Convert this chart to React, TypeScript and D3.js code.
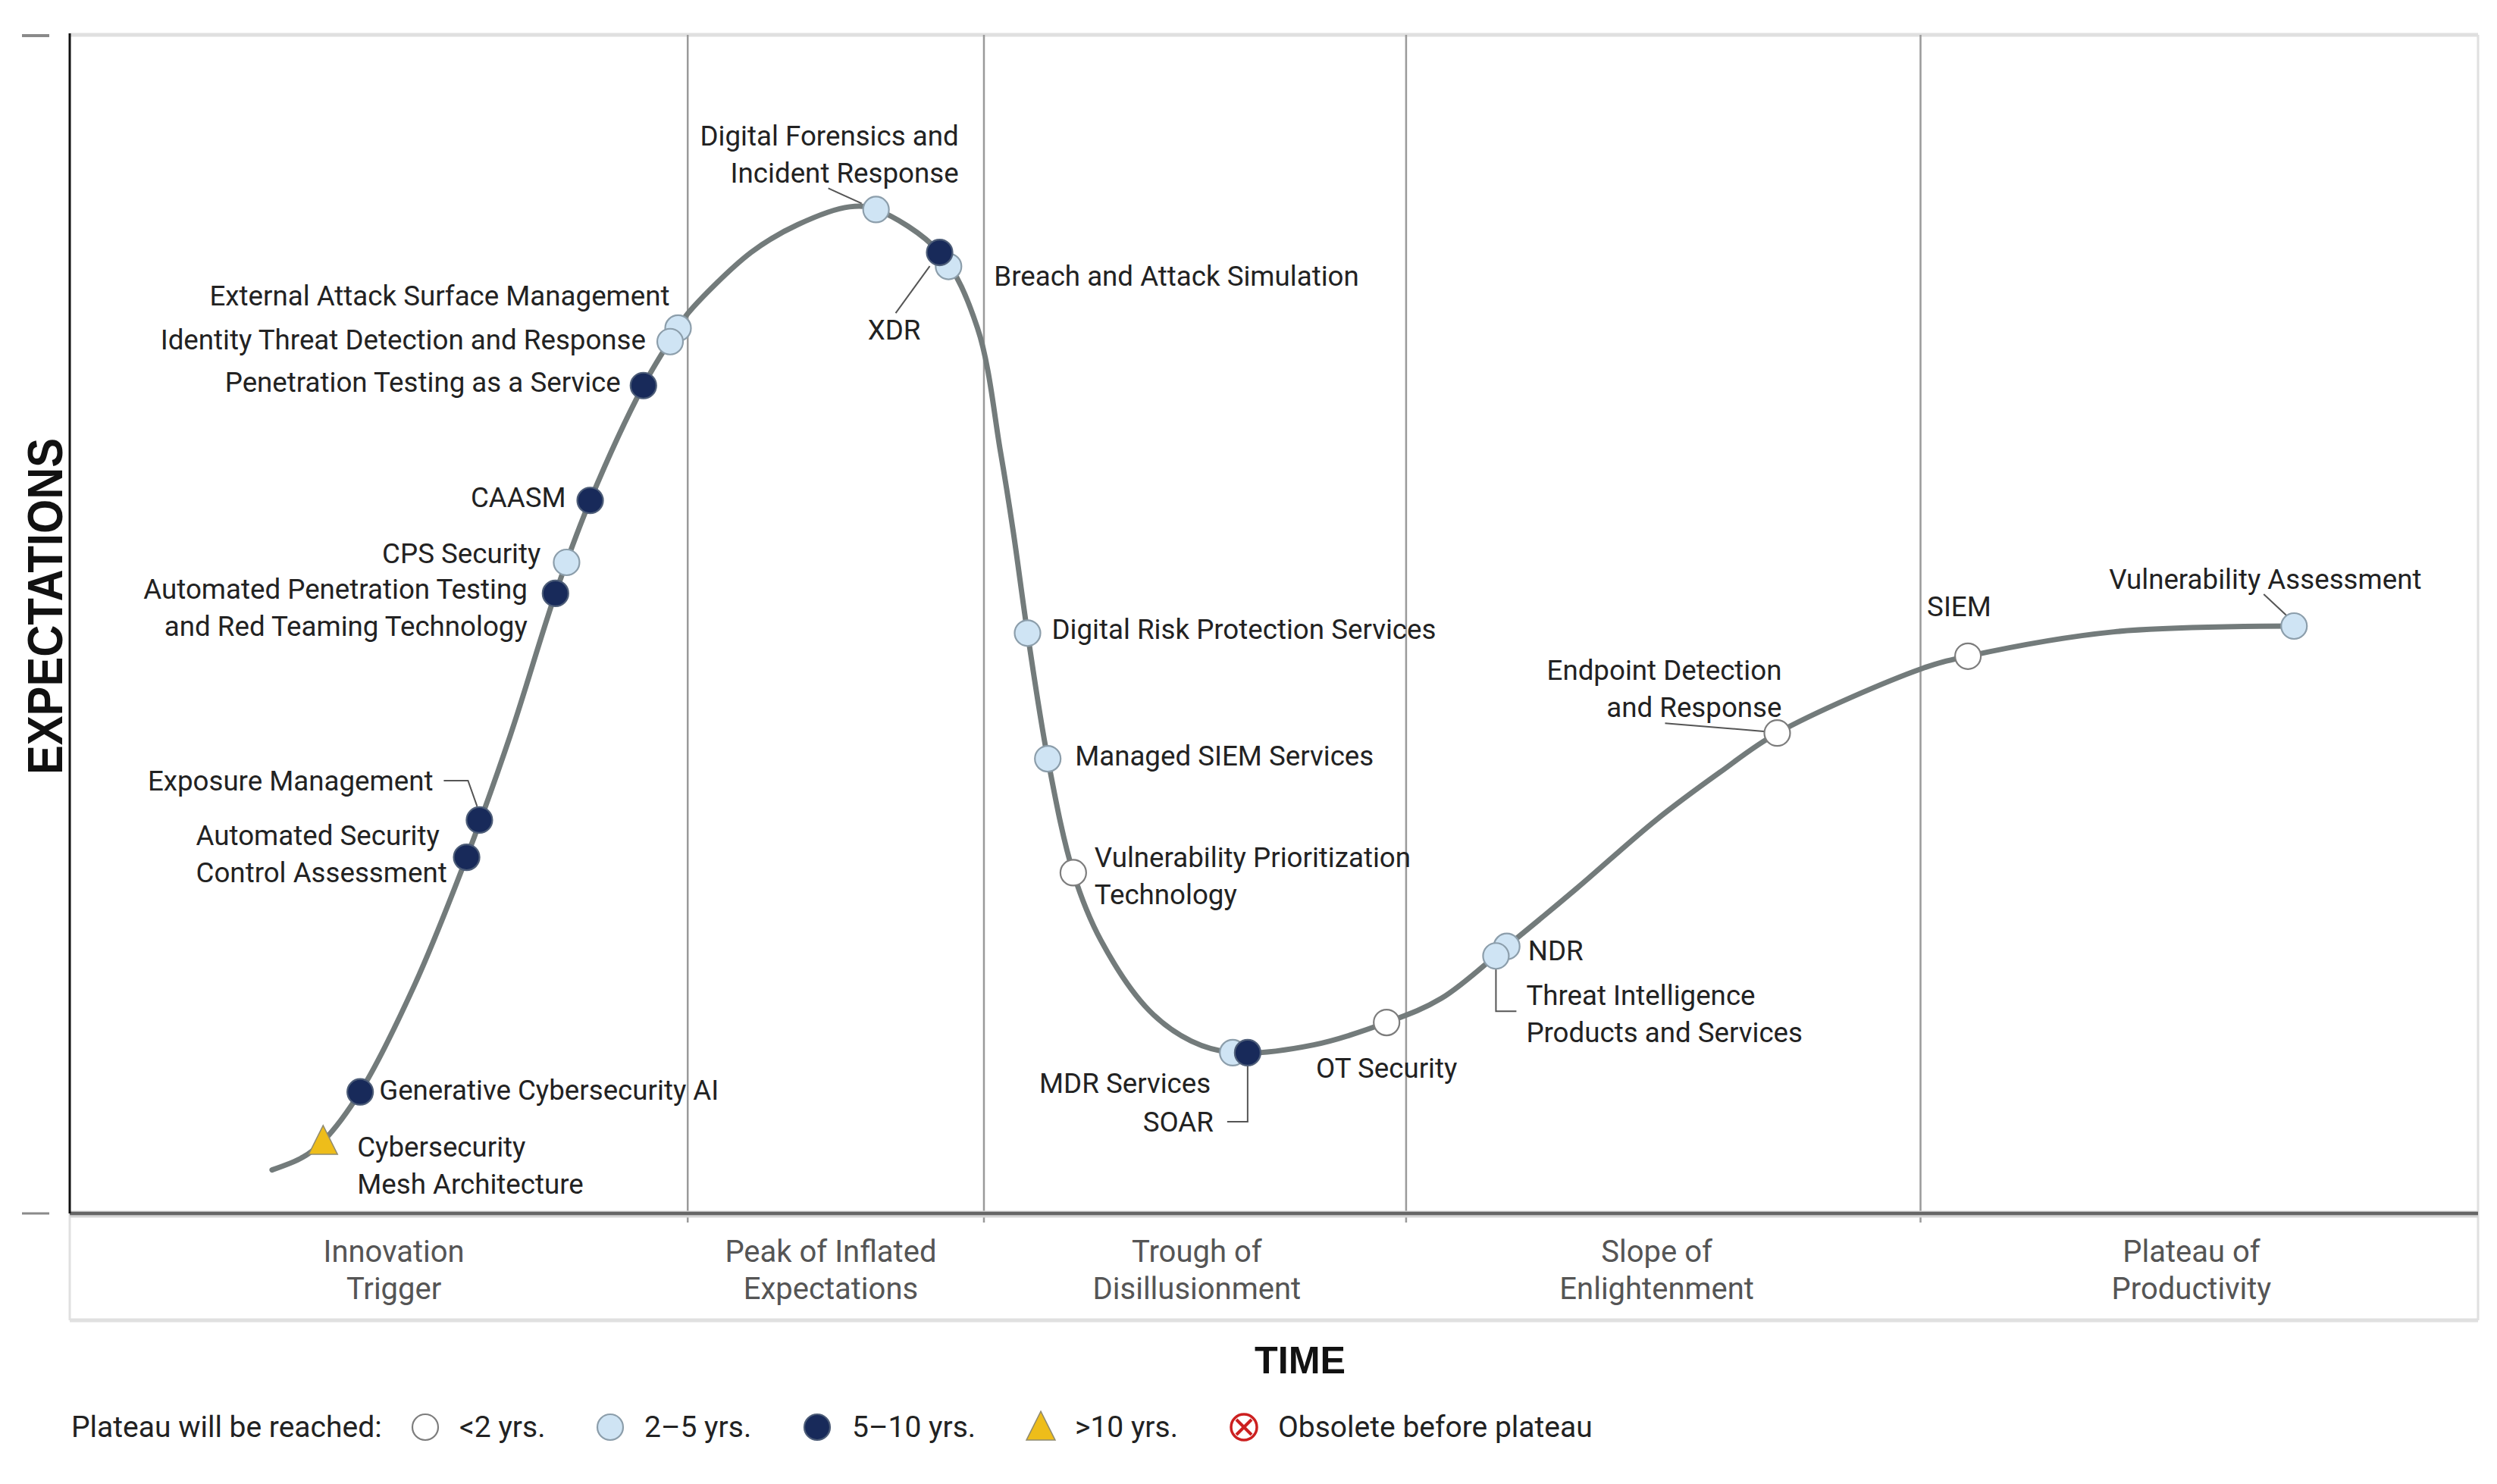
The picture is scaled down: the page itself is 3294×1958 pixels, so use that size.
import React from 'react';
import * as d3 from 'd3';

// ---------- DATA ----------
// Hype curve (time 0..100, expectations 0..100)
const curveTime = [8.4, 9.68, 10.52, 12.06, 14.31, 16.48, 18.29, 20.17, 21.61, 23.82, 25.26, 25.66, 28.29, 30.22, 32.38, 33.48, 36.12, 37.69, 38.65, 39.17, 39.77, 40.61, 41.67, 42.82, 44.81, 46.57, 48.29, 51.65, 54.68, 56.95, 59.67, 62.57, 65.87, 68.52, 70.9, 76.92, 78.82, 84.89, 92.36];
const curveExpect = [3.69, 4.77, 6.12, 10.31, 19.35, 30.22, 40.54, 52.61, 60.5, 70.24, 75.12, 76.35, 81.54, 83.89, 85.41, 85.18, 81.54, 75.14, 64.59, 57.95, 49.24, 38.58, 28.91, 23.16, 17.24, 14.62, 13.64, 14.3, 16.2, 18.24, 22.66, 27.57, 33.38, 37.43, 40.76, 46.24, 47.28, 49.35, 49.84];

const techNames = [
  'Cybersecurity\nMesh Architecture',
  'Generative Cybersecurity AI',
  'Automated Security\nControl Assessment',
  'Exposure Management',
  'Automated Penetration Testing\nand Red Teaming Technology',
  'CPS Security',
  'CAASM',
  'Penetration Testing as a Service',
  'External Attack Surface Management',
  'Identity Threat Detection and Response',
  'Digital Forensics and\nIncident Response',
  'Breach and Attack Simulation',
  'XDR',
  'Digital Risk Protection Services',
  'Managed SIEM Services',
  'Vulnerability Prioritization\nTechnology',
  'MDR Services',
  'SOAR',
  'OT Security',
  'NDR',
  'Threat Intelligence\nProducts and Services',
  'Endpoint Detection\nand Response',
  'SIEM',
  'Vulnerability Assessment',
];
const techTime = [10.52, 12.06, 16.48, 17.01, 20.17, 20.63, 21.61, 23.82, 25.26, 24.93, 33.48, 36.49, 36.12, 39.77, 40.61, 41.67, 48.29, 48.91, 54.68, 59.67, 59.22, 70.9, 78.82, 92.36];
const techExpect = [6.12, 10.31, 30.22, 33.38, 52.61, 55.24, 60.5, 70.24, 75.12, 73.97, 85.18, 80.35, 81.54, 49.24, 38.58, 28.91, 13.64, 13.64, 16.2, 22.66, 21.85, 40.76, 47.28, 49.84];
const techPlateau = ['>10', '5-10', '5-10', '5-10', '5-10', '2-5', '5-10', '5-10', '2-5', '2-5', '2-5', '2-5', '5-10', '2-5', '2-5', '<2', '2-5', '5-10', '<2', '2-5', '2-5', '<2', '<2', '2-5'];

const phaseNames = ['Innovation\nTrigger', 'Peak of Inflated\nExpectations', 'Trough of\nDisillusionment', 'Slope of\nEnlightenment', 'Plateau of\nProductivity'];
const phaseBoundaries = [25.66, 37.96, 55.49, 76.85];
const phaseLabelCenters = [13.46, 31.6, 46.8, 65.9, 88.1];

const legendTitle = 'Plateau will be reached:';
const legendKeys = ['<2', '2-5', '5-10', '>10', 'obsolete'];
const legendLabels = ['<2 yrs.', '2\u20135 yrs.', '5\u201310 yrs.', '>10 yrs.', 'Obsolete before plateau'];

// ---------- LAYOUT (pixels) ----------
const W = 3294, H = 1958;
const plot = { left: 92, right: 3269, top: 46, bottom: 1601, boxBottom: 1742 };
const LH = 49;

type Lay = { dx: number; dy: number; anchor: 'start' | 'end' | 'middle'; leader?: number[][] };
const labelLayout: Lay[] = [
  { dx: 45, dy: 8, anchor: 'start' },
  { dx: 25, dy: -2, anchor: 'start' },
  { dx: -357, dy: -29, anchor: 'start' },
  { dx: -61, dy: -51, anchor: 'end', leader: [[-47, -52], [-15, -52], [-3, -18]] },
  { dx: -37, dy: -5, anchor: 'end' },
  { dx: -34, dy: -12, anchor: 'end' },
  { dx: -32, dy: -4, anchor: 'end' },
  { dx: -30, dy: -4, anchor: 'end' },
  { dx: -11, dy: -42, anchor: 'end' },
  { dx: -32, dy: -2, anchor: 'end' },
  { dx: 109, dy: -97, anchor: 'end', leader: [[-63, -28], [-19, -8]] },
  { dx: 60, dy: 13, anchor: 'start' },
  { dx: -60, dy: 102, anchor: 'middle', leader: [[-13, 18], [-58, 80]] },
  { dx: 32, dy: -5, anchor: 'start' },
  { dx: 36, dy: -4, anchor: 'start' },
  { dx: 28, dy: -20, anchor: 'start' },
  { dx: -29, dy: 41, anchor: 'end' },
  { dx: -45, dy: 92, anchor: 'end', leader: [[0, 15], [0, 91], [-27, 91]] },
  { dx: 0, dy: 60, anchor: 'middle' },
  { dx: 28, dy: 6, anchor: 'start' },
  { dx: 40, dy: 52, anchor: 'start', leader: [[0, 16], [0, 73], [27, 73]] },
  { dx: 6, dy: -83, anchor: 'end', leader: [[-148, -13], [-15, -2]] },
  { dx: -54, dy: -65, anchor: 'start' },
  { dx: -38, dy: -61, anchor: 'middle', leader: [[-40, -42], [-10, -14]] },
];

const legendPos = { y: 1883, titleX: 94, symX: [561, 805, 1078, 1373, 1641], textX: [606, 850, 1124, 1418, 1686] };

const R = 17;
const FONT = 'Roboto, "Noto Sans", sans-serif';
const styles: Record<string, { fill: string; stroke: string }> = {
  '<2': { fill: '#ffffff', stroke: '#7d7d7d' },
  '2-5': { fill: '#cfe4f4', stroke: '#8c9eab' },
  '5-10': { fill: '#182a5a', stroke: '#4d5d78' },
};

function Marker({ kind, cx, cy }: { kind: string; cx: number; cy: number }) {
  if (kind === '>10') {
    const s = 38;
    const pts = [[cx, cy - s * 0.55], [cx + s / 2, cy + s * 0.45], [cx - s / 2, cy + s * 0.45]];
    return <polygon points={pts.map(p => p.join(',')).join(' ')} fill="#eebd1a" stroke="#8f8a70" strokeWidth={1.5} />;
  }
  if (kind === 'obsolete') {
    const k = 10;
    return (
      <g>
        <circle cx={cx} cy={cy} r={R} fill="#fff" stroke="#cc2020" strokeWidth={3.5} />
        <line x1={cx - k} y1={cy - k} x2={cx + k} y2={cy + k} stroke="#cc2020" strokeWidth={4} />
        <line x1={cx - k} y1={cy + k} x2={cx + k} y2={cy - k} stroke="#cc2020" strokeWidth={4} />
      </g>
    );
  }
  const st = styles[kind];
  return <circle cx={cx} cy={cy} r={R} fill={st.fill} stroke={st.stroke} strokeWidth={2.2} />;
}

export default function App() {
  const x = d3.scaleLinear().domain([0, 100]).range([plot.left, plot.right]);
  const y = d3.scaleLinear().domain([0, 100]).range([plot.bottom, plot.top]);
  const pts: [number, number][] = curveTime.map((t, i) => [t, curveExpect[i]]);
  const line = d3.line<[number, number]>().x(d => x(d[0])).y(d => y(d[1])).curve(d3.curveCatmullRom.alpha(0.5));
  const path = line(pts) || '';

  const techs = techNames.map((name, i) => ({ name, cx: x(techTime[i]), cy: y(techExpect[i]), kind: techPlateau[i], lay: labelLayout[i] }));

  return (
    <svg width={W} height={H} style={{ position: 'absolute', left: 0, top: 0, background: '#fff' }} fontFamily={FONT}>
      <rect x={0} y={0} width={W} height={H} fill="#fff" />
      {/* frame */}
      <line x1={plot.left} x2={plot.right} y1={plot.top} y2={plot.top} stroke="#e0e0e0" strokeWidth={5} />
      <line x1={plot.right} x2={plot.right} y1={plot.top} y2={plot.boxBottom} stroke="#e0e0e0" strokeWidth={3} />
      <line x1={plot.left} x2={plot.right} y1={plot.boxBottom} y2={plot.boxBottom} stroke="#e0e0e0" strokeWidth={5} />
      <line x1={plot.left} x2={plot.left} y1={plot.bottom} y2={plot.boxBottom} stroke="#e0e0e0" strokeWidth={3} />
      {/* tick dashes */}
      <line x1={29} x2={65} y1={plot.top + 1} y2={plot.top + 1} stroke="#8a8a8a" strokeWidth={4} />
      <line x1={29} x2={65} y1={plot.bottom} y2={plot.bottom} stroke="#8a8a8a" strokeWidth={3} />
      {/* phase dividers */}
      {phaseBoundaries.map((b, i) => (
        <line key={i} x1={x(b)} x2={x(b)} y1={plot.top} y2={plot.bottom + 12} stroke="#9a9a9a" strokeWidth={2.5} />
      ))}
      {/* baseline and y axis */}
      <line x1={plot.left} x2={plot.right} y1={plot.bottom + 1} y2={plot.bottom + 1} stroke="#d5d5d5" strokeWidth={9} />
      <line x1={plot.left} x2={plot.right} y1={plot.bottom} y2={plot.bottom} stroke="#666" strokeWidth={4.5} />
      <line x1={plot.left} x2={plot.left} y1={plot.top - 2} y2={plot.bottom} stroke="#111" strokeWidth={3} />
      {/* phase labels */}
      {phaseNames.map((p, i) => (
        <text key={i} x={x(phaseLabelCenters[i])} textAnchor="middle" fontSize={40} fill="#555">
          {p.split('\n').map((l, j) => (
            <tspan key={j} x={x(phaseLabelCenters[i])} y={1651 + j * 49} dominantBaseline="central">{l}</tspan>
          ))}
        </text>
      ))}
      {/* axis titles */}
      <text transform={`translate(60,800) rotate(-90)`} textAnchor="middle" dominantBaseline="central" fontFamily='"Liberation Sans", Arial, sans-serif' fontWeight="bold" fontSize={64} textLength={444} lengthAdjust="spacingAndGlyphs" fill="#111">EXPECTATIONS</text>
      <text x={1715} y={1795} textAnchor="middle" dominantBaseline="central" fontFamily='"Liberation Sans", Arial, sans-serif' fontWeight="bold" fontSize={50} textLength={120} lengthAdjust="spacingAndGlyphs" fill="#111">TIME</text>
      {/* curve */}
      <path d={path} fill="none" stroke="#737b7b" strokeWidth={7} strokeLinecap="round" />
      {/* leaders */}
      {techs.map((t, i) => t.lay.leader ? (
        <polyline key={'l' + i} points={t.lay.leader.map(p => `${t.cx + p[0]},${t.cy + p[1]}`).join(' ')} fill="none" stroke="#555" strokeWidth={2} />
      ) : null)}
      {/* markers */}
      {techs.map((t, i) => <Marker key={'m' + i} kind={t.kind} cx={t.cx} cy={t.cy} />)}
      {/* labels */}
      {techs.map((t, i) => (
        <text key={'t' + i} fontSize={36.7} fill="#222" textAnchor={t.lay.anchor}>
          {t.name.split('\n').map((l, j) => (
            <tspan key={j} x={t.cx + t.lay.dx} y={t.cy + t.lay.dy + j * LH} dominantBaseline="central">{l}</tspan>
          ))}
        </text>
      ))}
      {/* legend */}
      <text x={legendPos.titleX} y={legendPos.y} dominantBaseline="central" fontSize={39} fill="#222">{legendTitle}</text>
      {legendKeys.map((k, i) => (
        <g key={k}>
          <Marker kind={k} cx={legendPos.symX[i]} cy={legendPos.y} />
          <text x={legendPos.textX[i]} y={legendPos.y} dominantBaseline="central" fontSize={39} fill="#222">{legendLabels[i]}</text>
        </g>
      ))}
    </svg>
  );
}
